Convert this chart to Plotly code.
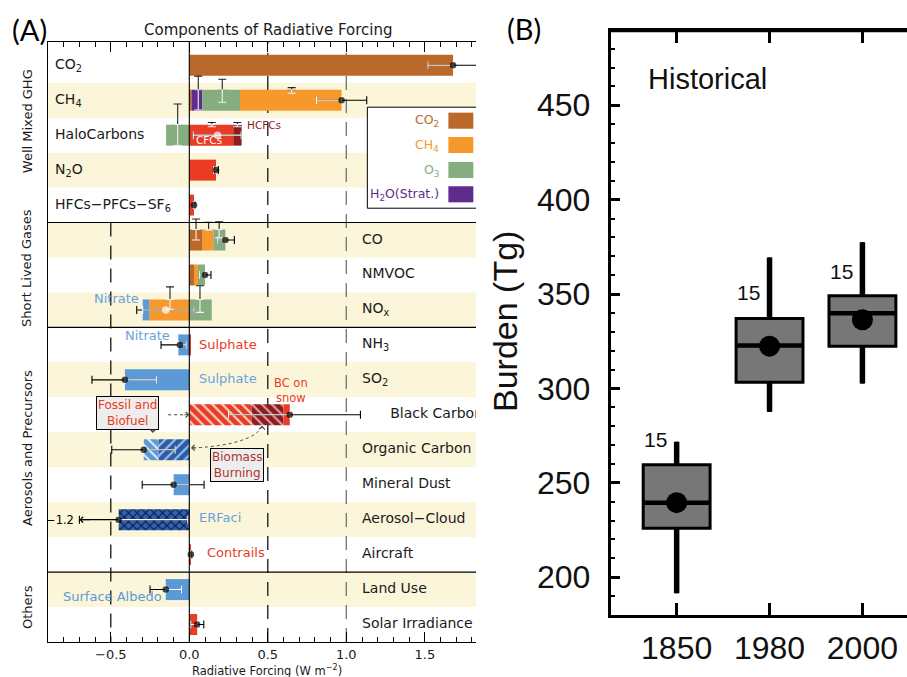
import plotly.graph_objects as go

# ---------------- Panel A: components of radiative forcing (W m-2) ----------------
rows = ["CO<sub>2</sub>", "CH<sub>4</sub>", "HaloCarbons", "N<sub>2</sub>O",
        "HFCs−PFCs−SF<sub>6</sub>", "CO", "NMVOC", "NO<sub>x</sub>",
        "NH<sub>3</sub>", "SO<sub>2</sub>", "Black Carbon", "Organic Carbon",
        "Mineral Dust", "Aerosol−Cloud", "Aircraft", "Land Use", "Solar Irradiance"]
groups = ["Well Mixed GHG", "Short Lived Gases", "Aerosols and Precursors", "Others"]
group_sizes = [5, 3, 7, 2]

# forcing contributed by each component, one entry per row
rf_co2 = [1.68, 0.015, 0, 0, 0, 0.085, 0.03, 0, 0, 0, 0, 0, 0, 0, 0, 0, 0]
rf_h2o = [0, 0.068, 0, 0, 0, 0, 0, 0, 0, 0, 0, 0, 0, 0, 0, 0, 0]
rf_o3 = [0, 0.24, -0.148, 0, 0, 0.077, 0.045, 0.143, 0, 0, 0, 0, 0, 0, 0, 0, 0]
rf_ch4 = [0, 0.647, 0, 0, 0, 0.068, 0.025, -0.255, 0, 0, 0, 0, 0, 0, 0, 0, 0]
rf_cfc = [0, 0, 0.28, 0, 0, 0, 0, 0, 0, 0, 0, 0, 0, 0, 0, 0, 0]
rf_hcfc = [0, 0, 0.053, 0, 0, 0, 0, 0, 0, 0, 0, 0, 0, 0, 0, 0, 0]
rf_red = [0, 0, 0, 0.17, 0.03, 0, 0, 0, 0.011, 0, 0, 0, 0, 0, 0.01, 0, 0.05]
rf_blue = [0, 0, 0, 0, 0, 0, 0, -0.042, -0.07, -0.41, 0, 0, -0.10, 0, 0, -0.15, 0]
rf_bc_fossil = [0, 0, 0, 0, 0, 0, 0, 0, 0, 0, 0.397, 0, 0, 0, 0, 0, 0]
rf_bc_biomass = [0, 0, 0, 0, 0, 0, 0, 0, 0, 0, 0.203, 0, 0, 0, 0, 0, 0]
rf_bc_snow = [0, 0, 0, 0, 0, 0, 0, 0, 0, 0, 0.04, 0, 0, 0, 0, 0, 0]
rf_oc_biomass = [0, 0, 0, 0, 0, 0, 0, 0, 0, 0, 0, -0.197, 0, 0, 0, 0, 0]
rf_oc_fossil = [0, 0, 0, 0, 0, 0, 0, 0, 0, 0, 0, -0.093, 0, 0, 0, 0, 0]
rf_aci = [0, 0, 0, 0, 0, 0, 0, 0, 0, 0, 0, 0, 0, -0.45, 0, 0, 0]

# net forcing and its uncertainty range per row
rf_net = [1.68, 0.97, 0.18, 0.17, 0.03, 0.23, 0.10, -0.15, -0.06, -0.41,
          0.64, -0.29, -0.10, -0.45, 0.01, -0.15, 0.05]
rf_low = [1.52, 0.81, 0.025, 0.155, 0.025, 0.178, 0.064, -0.335, -0.18, -0.62,
          0.25, -0.494, -0.30, -1.2, 0.005, -0.25, 0.01]
rf_high = [1.84, 1.13, 0.33, 0.185, 0.035, 0.287, 0.138, 0.03, -0.02, -0.21,
           1.09, -0.09, 0.094, -0.01, 0.015, -0.05, 0.092]

# component uncertainty glyphs: forcing value, and vertical extent in row units
comp_err_x = [0.057, 0.21, 0.652, -0.074, 0.143, 0.306, 0.043, 0.123, 0.19, -0.123, 0.068]
comp_err_row = [1, 1, 1, 2, 2, 2, 5, 5, 5, 7, 7]
comp_err_top = [0.31, 0.40, 0.64, 1.11, 1.64, 1.64, 4.40, 4.49, 4.48, 6.34, 6.31]
comp_err_bot = [1.28, 1.06, 0.80, 2.30, 1.76, 1.76, 5.00, 4.71, 4.94, 6.98, 7.07]

# ---------------- Panel B: burden (Tg) ----------------
years = ["1850", "1980", "2000"]
burden_low = [191.5, 287.6, 302.6]
burden_q1 = [226.0, 303.3, 322.4]
burden_median = [239.5, 322.8, 339.9]
burden_q3 = [259.6, 337.1, 349.1]
burden_high = [271.8, 369.4, 377.5]
burden_mean = [239.5, 322.4, 336.4]
n_models = [15, 15, 15]

# ---------------- styling ----------------
BROWN = "#BB692B"
ORANGE = "#F6982B"
GREEN = "#86AD80"
PURPLE = "#5F2C8E"
RED = "#EA3B24"
DARKRED = "#8C1C1E"
BLUE = "#5B99D7"
DARKBLUE = "#2C5CA8"
NAVY = "#1A3E86"
CREAM = "#FBF5DA"
LIGHTBLUE_TXT = "#6AA3DC"
FA = "DejaVu Sans"
FB = "Liberation Sans"
W, H = 907, 677

N = len(rows)
BAR_W = 0.6


def hatch(bg, fg, shape, size=7, solidity=0.3):
    return dict(shape=shape, fillmode="replace", bgcolor=bg, fgcolor=fg,
                size=size, solidity=solidity)


series = {
    "co2": (rf_co2, dict(color=BROWN)),
    "h2o": (rf_h2o, dict(color=PURPLE)),
    "ch4": (rf_ch4, dict(color=ORANGE)),
    "o3": (rf_o3, dict(color=GREEN)),
    "red": (rf_red, dict(color=RED)),
    "cfc": (rf_cfc, dict(color=RED)),
    "hcfc": (rf_hcfc, dict(color=DARKRED)),
    "blue": (rf_blue, dict(color=BLUE)),
    "bc_fossil": (rf_bc_fossil, dict(color=RED, pattern=hatch(RED, "#FBD5CC", "\\"))),
    "bc_biomass": (rf_bc_biomass, dict(color=DARKRED, pattern=hatch(DARKRED, "#D9A3A3", "\\"))),
    "bc_snow": (rf_bc_snow, dict(color=RED)),
    "oc_biomass": (rf_oc_biomass, dict(color=DARKBLUE, pattern=hatch(DARKBLUE, "#9CC0EA", "/"))),
    "oc_fossil": (rf_oc_fossil, dict(color=BLUE, pattern=hatch(BLUE, "#DCEAF8", "\\"))),
    "aci": (rf_aci, dict(color=NAVY, pattern=hatch("#2F62B5", "#0B1A3C", "x", size=6, solidity=0.35))),
}
stack_order = ["co2", "h2o", "ch4", "o3", "red", "cfc", "hcfc", "blue",
               "bc_fossil", "bc_biomass", "bc_snow", "oc_biomass", "oc_fossil", "aci"]
stack_override = {1: ["co2", "h2o", "o3", "ch4"]}

# stack each row outward from zero, positives to the right and negatives to the left
segs = {k: {"y": [], "x": [], "base": []} for k in series}
bar_lo = [0.0] * N
bar_hi = [0.0] * N
for r in range(N):
    pos = neg = 0.0
    for k in stack_override.get(r, stack_order):
        v = series[k][0][r]
        if v > 0:
            segs[k]["y"].append(r); segs[k]["x"].append(v); segs[k]["base"].append(pos)
            pos += v
        elif v < 0:
            segs[k]["y"].append(r); segs[k]["x"].append(v); segs[k]["base"].append(neg)
            neg += v
    bar_lo[r], bar_hi[r] = neg, pos

fig = go.Figure()

for k, (vals, marker) in series.items():
    s = segs[k]
    if not s["y"]:
        continue
    fig.add_trace(go.Bar(
        y=s["y"], x=s["x"], base=s["base"], orientation="h", width=BAR_W,
        marker=dict(line=dict(width=0), **marker), hoverinfo="skip",
        xaxis="x", yaxis="y"))

# overall uncertainty: black outside the bar, white where it crosses the bar
X_MIN_SHOWN = -0.70
lo_draw = [max(lo, X_MIN_SHOWN) for lo in rf_low]
fig.add_trace(go.Scatter(
    x=rf_net, y=list(range(N)), mode="markers", marker=dict(size=1, opacity=0),
    error_x=dict(type="data", symmetric=False,
                 array=[h - n for h, n in zip(rf_high, rf_net)],
                 arrayminus=[n - l for n, l in zip(rf_net, lo_draw)],
                 color="black", thickness=1.1, width=4),
    hoverinfo="skip", xaxis="x", yaxis="y"))

wx, wy, wp, wm = [], [], [], []
for r in range(N):
    a = max(lo_draw[r], bar_lo[r])
    b = min(rf_high[r], bar_hi[r])
    if b > a:
        wx.append(rf_net[r]); wy.append(r)
        wp.append(max(0.0, b - rf_net[r])); wm.append(max(0.0, rf_net[r] - a))
fig.add_trace(go.Scatter(
    x=wx, y=wy, mode="markers", marker=dict(size=1, opacity=0),
    error_x=dict(type="data", symmetric=False, array=wp, arrayminus=wm,
                 color="white", thickness=1.1, width=4),
    hoverinfo="skip", xaxis="x", yaxis="y"))

# component uncertainty glyphs
bx, by, bm = [], [], []
ix, iy, ip = [], [], []
for x, r, t, b in zip(comp_err_x, comp_err_row, comp_err_top, comp_err_bot):
    top_edge = r - BAR_W / 2
    if t < top_edge:
        bx.append(x); by.append(top_edge); bm.append(top_edge - t)
    if b > top_edge:
        ix.append(x); iy.append(top_edge); ip.append(min(b, r + BAR_W / 2) - top_edge)
fig.add_trace(go.Scatter(
    x=bx, y=by, mode="markers", marker=dict(size=1, opacity=0),
    error_y=dict(type="data", symmetric=False, array=[0] * len(bx), arrayminus=bm,
                 color="#222222", thickness=1.1, width=4),
    hoverinfo="skip", xaxis="x", yaxis="y"))
fig.add_trace(go.Scatter(
    x=ix, y=iy, mode="markers", marker=dict(size=1, opacity=0),
    error_y=dict(type="data", symmetric=False, array=ip, arrayminus=[0] * len(ix),
                 color="#F2F2F2", thickness=1.1, width=4),
    hoverinfo="skip", xaxis="x", yaxis="y"))

# net forcing markers (white where the row total sits on mixed-sign bars)
white_rows = {2, 7}
fig.add_trace(go.Scatter(
    x=rf_net, y=list(range(N)), mode="markers",
    marker=dict(symbol="circle", size=[7.5 if r in white_rows else 6.5 for r in range(N)],
                color=["white" if r in white_rows else "black" for r in range(N)],
                line=dict(width=0)),
    hoverinfo="skip", xaxis="x", yaxis="y"))

# row labels (clipped to the plot area); rows with long ranges push the label right
nl = group_sizes[0]
right_x = [max(1.10, rf_high[r] + 0.19) for r in range(nl, N)]
fig.add_trace(go.Scatter(
    x=[-0.855] * nl, y=list(range(nl)), mode="text", text=rows[:nl],
    textposition="middle right", textfont=dict(family=FA, size=14, color="#1a1a1a"),
    hoverinfo="skip", xaxis="x", yaxis="y"))
fig.add_trace(go.Scatter(
    x=right_x, y=list(range(nl, N)), mode="text", text=rows[nl:],
    textposition="middle right", textfont=dict(family=FA, size=14, color="#1a1a1a"),
    hoverinfo="skip", xaxis="x", yaxis="y"))

# ---------------- Panel B traces ----------------
xb = list(range(len(years)))
BOX_W = 0.72
fig.add_trace(go.Box(
    x=xb, q1=burden_q1, median=burden_median, q3=burden_q3,
    lowerfence=burden_low, upperfence=burden_high, width=BOX_W,
    fillcolor="#777777", line=dict(color="black", width=3), whiskerwidth=0,
    boxpoints=False, hoverinfo="skip", xaxis="x2", yaxis="y2"))
wxs, wys, mxs, mys = [], [], [], []
for i in xb:
    wxs += [i, i, None, i, i, None]
    wys += [burden_q3[i], burden_high[i], None, burden_low[i], burden_q1[i], None]
    mxs += [i - BOX_W / 2, i + BOX_W / 2, None]
    mys += [burden_median[i], burden_median[i], None]
fig.add_trace(go.Scatter(x=wxs, y=wys, mode="lines", line=dict(color="black", width=5.5),
                         hoverinfo="skip", xaxis="x2", yaxis="y2"))
fig.add_trace(go.Scatter(x=mxs, y=mys, mode="lines", line=dict(color="black", width=4.5),
                         hoverinfo="skip", xaxis="x2", yaxis="y2"))
fig.add_trace(go.Scatter(x=xb, y=burden_mean, mode="markers",
                         marker=dict(color="black", size=21),
                         hoverinfo="skip", xaxis="x2", yaxis="y2"))

# ---------------- shapes ----------------
shapes = []
for r in range(1, N, 2):
    shapes.append(dict(type="rect", xref="x domain", yref="y", x0=0, x1=1,
                       y0=r - 0.5, y1=r + 0.5, fillcolor=CREAM, line=dict(width=0),
                       layer="below"))
DASH = "14px,9px"
shapes += [
    dict(type="line", xref="x", yref="y domain", x0=0.5, x1=0.5, y0=0, y1=1,
         line=dict(color="black", width=1.2, dash=DASH), layer="below"),
    dict(type="line", xref="x", yref="y domain", x0=1.0, x1=1.0, y0=0, y1=1,
         line=dict(color="#7a7a7a", width=1.4, dash=DASH), layer="below"),
    dict(type="line", xref="x", yref="y", x0=-0.5, x1=-0.5, y0=group_sizes[0] - 0.5, y1=N - 0.5,
         line=dict(color="black", width=1.2, dash=DASH), layer="below"),
    dict(type="line", xref="x", yref="y domain", x0=0, x1=0, y0=0, y1=1,
         line=dict(color="black", width=1.1)),
]
edge = 0
for g in group_sizes[:-1]:
    edge += g
    shapes.append(dict(type="line", xref="x domain", yref="y", x0=0, x1=1,
                       y0=edge - 0.5, y1=edge - 0.5, line=dict(color="black", width=1.1)))

# source arrows for fossil/biofuel and biomass burning
shapes += [
    dict(type="line", xref="x", yref="y", x0=-0.135, x1=-0.02, y0=10.0, y1=10.0,
         line=dict(color="#444", width=1, dash="dot")),
    dict(type="path", xref="x", yref="y",
         path="M 0.465,10.33 Q 0.40,10.85 0.03,10.95",
         line=dict(color="#444", width=1, dash="dot")),
]

# legend box
leg_items = [("CO<sub>2</sub>", BROWN), ("CH<sub>4</sub>", ORANGE),
             ("O<sub>3</sub>", GREEN), ("H<sub>2</sub>O(Strat.)", PURPLE)]
shapes.append(dict(type="rect", xref="x", yref="y", x0=1.134, x1=2.2, y0=1.20, y1=4.09,
                   fillcolor="white", line=dict(color="black", width=1)))
leg_rows = [1.586, 2.282, 2.997, 3.692]
for (name, col), ly in zip(leg_items, leg_rows):
    shapes.append(dict(type="rect", xref="x", yref="y", x0=1.65, x1=1.809,
                       y0=ly - 0.23, y1=ly + 0.23, fillcolor=col, line=dict(width=0)))

# top border of panel B
shapes.append(dict(type="line", xref="x2 domain", yref="y2 domain", x0=0, x1=1, y0=1, y1=1,
                   line=dict(color="black", width=3)))

# ---------------- annotations ----------------
ann = []


def label(text, x, y, color, size=13, xanchor="left", xref="x", yref="y", family=FA, **kw):
    ann.append(dict(text=text, x=x, y=y, xref=xref, yref=yref, xanchor=xanchor,
                    yanchor=kw.pop("yanchor", "middle"), showarrow=False,
                    font=dict(family=family, size=size, color=color), **kw))


for (name, col), ly in zip(leg_items, leg_rows):
    label(name, 1.603, ly, col, size=12.5, xanchor="right")

label("HCFCs", 0.352, 1.71, DARKRED, size=10.5)
label("CFCs", 0.033, 2.13, "white", size=10.5)
label("Nitrate", -0.305, 6.68, LIGHTBLUE_TXT, xanchor="right")
label("Nitrate", -0.11, 7.72, LIGHTBLUE_TXT, xanchor="right")
label("Sulphate", 0.05, 7.98, RED)
label("Sulphate", 0.05, 8.97, LIGHTBLUE_TXT)
label("BC on<br>snow", 0.645, 9.3, RED, size=11.5, xanchor="center")
label("Fossil and<br>Biofuel", -0.394, 9.96, RED, size=12, xanchor="center",
      bgcolor="#EDEDED", bordercolor="black", borderwidth=1, borderpad=1)
label("Biomass<br>Burning", 0.304, 11.45, "#B03232", size=12, xanchor="center",
      bgcolor="#EDEDED", bordercolor="black", borderwidth=1, borderpad=1)
label("ERFaci", 0.05, 12.95, LIGHTBLUE_TXT)
label("Contrails", 0.10, 13.93, RED)
label("Surface Albedo", -0.817, 15.2, BLUE)

# arrow heads for the source arrows
for hx, hy, tx, ty in [(0.0, 10.0, -0.04, 10.0), (-0.232, 10.52, -0.232, 10.37),
                       (0.465, 10.31, 0.463, 10.42), (0.01, 10.95, 0.05, 10.94)]:
    ann.append(dict(x=hx, y=hy, ax=tx, ay=ty, xref="x", yref="y", axref="x", ayref="y",
                    showarrow=True, arrowhead=4, arrowsize=1.1, arrowwidth=1,
                    arrowcolor="#444", text=""))

# rows whose range runs past the left edge get an arrow and the value
for r in range(N):
    if rf_low[r] < X_MIN_SHOWN:
        ann.append(dict(x=X_MIN_SHOWN, y=r, ax=X_MIN_SHOWN + 0.08, ay=r, xref="x", yref="y",
                        axref="x", ayref="y", showarrow=True, arrowhead=4, arrowsize=1.1,
                        arrowwidth=1, arrowcolor="black", text=""))
        label(f"{rf_low[r]:.1f}".replace("-", "−"), X_MIN_SHOWN - 0.02, r, "black",
              size=11.5, xanchor="right")

# group labels down the left side
group_label_rows = [1.6, 5.8, 10.95, 15.5]
for gname, gy in zip(groups, group_label_rows):
    label(gname, 27 / W, gy, "#1a1a1a", size=13, xanchor="center", xref="paper",
          textangle=-90)

label("Components of Radiative Forcing", 268 / W, (H - 30) / H, "#1a1a1a", size=15,
      xanchor="center", xref="paper", yref="paper")
label("Radiative Forcing (W m<sup>−2</sup>)", 267 / W, (H - 670.5) / H, "#1a1a1a", size=11.5,
      xanchor="center", xref="paper", yref="paper")
label("(A)", 29.5 / W, (H - 29) / H, "black", size=29, xanchor="center",
      xref="paper", yref="paper", family="Lato")
label("(B)", 524 / W, (H - 28.5) / H, "black", size=29, xanchor="center",
      xref="paper", yref="paper", family="Lato")

# panel B text
label("Historical", 645.7 / W, (H - 79) / H, "#111", size=29, xref="paper", yref="paper",
      family=FB)
label("Burden (Tg)", 505 / W, (H - 322) / H, "#111", size=34, xanchor="center",
      xref="paper", yref="paper", family=FB, textangle=-90)
count_label_y = [272.7, 350.7, 362.0]
for i, n in enumerate(n_models):
    label(str(n), i - 0.23, count_label_y[i], "#111", size=21, xanchor="center",
          xref="x2", yref="y2", family=FB)

fig.update_layout(
    width=W, height=H, margin=dict(l=0, r=0, t=0, b=0),
    paper_bgcolor="white", plot_bgcolor="white", showlegend=False,
    barmode="overlay", shapes=shapes, annotations=ann,
    xaxis=dict(domain=[48 / W, 476 / W], anchor="y", range=[-0.9, 1.826],
               tick0=0, dtick=0.5, tickformat=".1f", ticks="inside", ticklen=10,
               tickwidth=1, tickcolor="black", showline=True, linecolor="black",
               linewidth=1.2, mirror="allticks", showgrid=False, zeroline=False,
               minor=dict(dtick=0.1, tick0=0, ticks="inside", ticklen=5, tickwidth=1,
                          tickcolor="black", showgrid=False),
               tickfont=dict(family=FA, size=13, color="#1a1a1a"), ticklabelstandoff=0),
    yaxis=dict(domain=[(H - 642) / H, (H - 42) / H], anchor="x", range=[N - 0.5, -0.665],
               showticklabels=False, ticks="", showline=True, linecolor="black",
               linewidth=1.2, showgrid=False, zeroline=False),
    xaxis2=dict(domain=[610.7 / W, 1.0], anchor="y2", range=[-0.71, 2.48],
                tickmode="array", tickvals=xb, ticktext=years, ticks="inside", ticklen=12,
                tickwidth=3, tickcolor="black", showline=True, linecolor="black",
                linewidth=3, mirror="allticks", showgrid=False, zeroline=False,
                tickfont=dict(family=FB, size=32, color="#111"), ticklabelstandoff=3),
    yaxis2=dict(domain=[(H - 615) / H, (H - 30.7) / H], anchor="x2", range=[180, 489.5],
                tick0=0, dtick=50, ticks="inside", ticklen=9, tickwidth=2.5,
                tickcolor="black", showline=True, linecolor="black", linewidth=3,
                showgrid=False, zeroline=False,
                minor=dict(dtick=10, tick0=0, ticks="inside", ticklen=4.5, tickwidth=2,
                           tickcolor="black", showgrid=False),
                tickfont=dict(family=FB, size=32, color="#111"), ticklabelstandoff=11),
)

fig.write_html("out.html")
